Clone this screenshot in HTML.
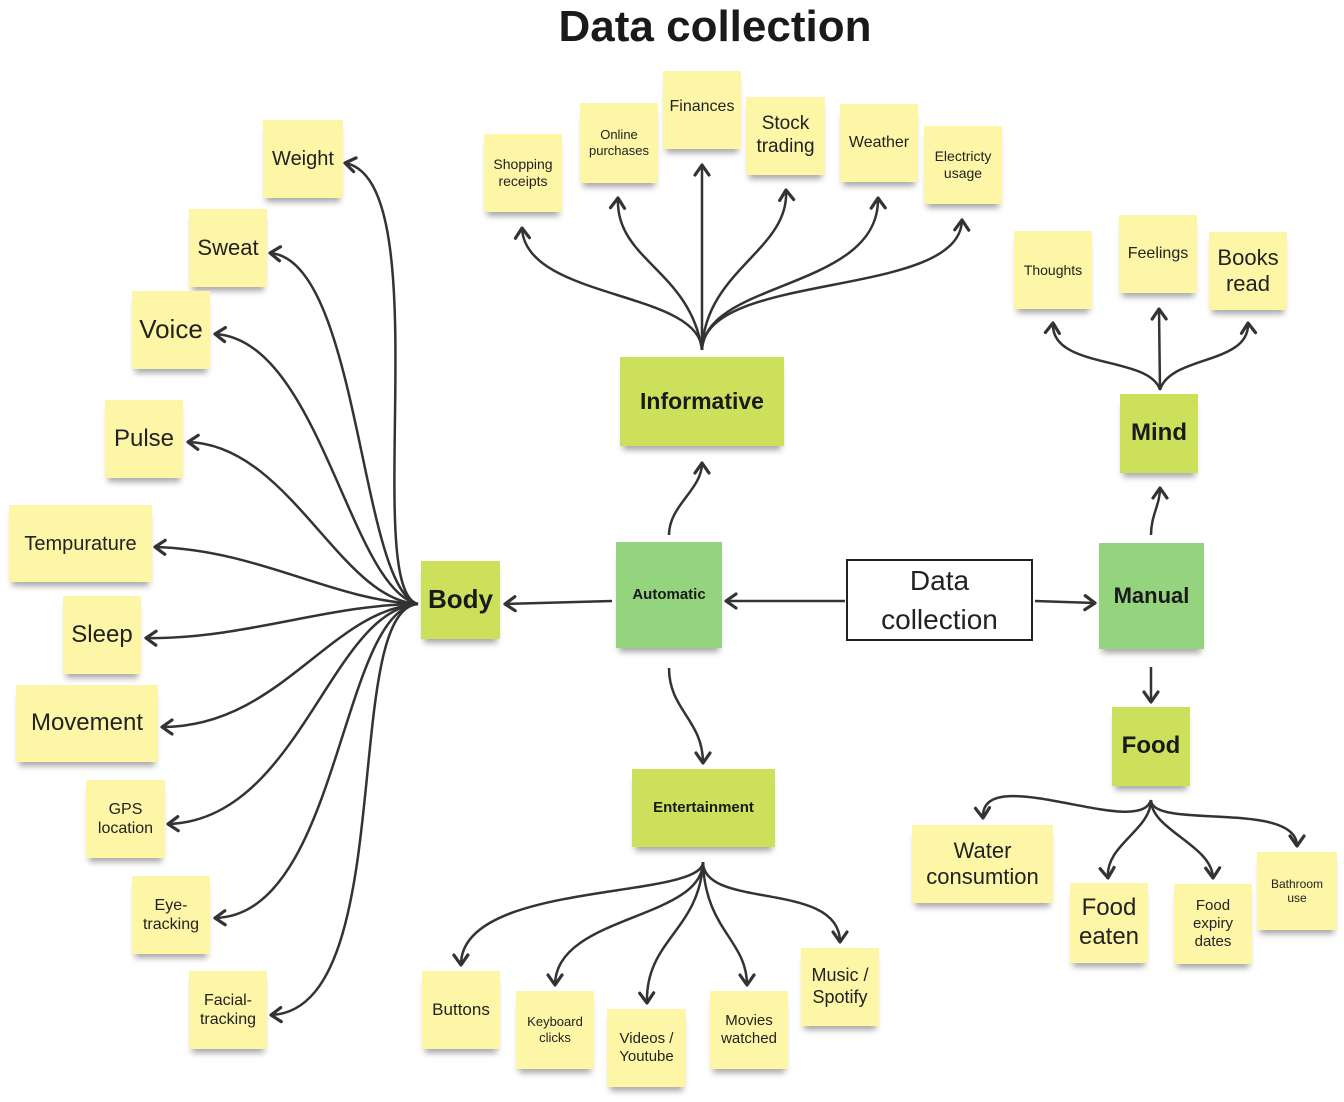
<!DOCTYPE html>
<html><head><meta charset="utf-8"><style>
body{margin:0;width:1344px;height:1102px;background:#fff;position:relative;overflow:hidden;font-family:"Liberation Sans","DejaVu Sans",sans-serif;}
.n{position:absolute;display:flex;align-items:center;justify-content:center;text-align:center;color:#222;background:#fdf6a6;box-shadow:0 7px 6px -3px rgba(0,0,0,0.35);line-height:1.2;}
.g{background:#cde05c;font-weight:bold;color:#1a1a1a}
.m{background:#95d47f;font-weight:bold;color:#1a1a1a}
h1{position:absolute;left:0;width:1430px;top:2px;margin:0;text-align:center;font-size:44px;font-weight:bold;color:#1a1a1a}
svg{position:absolute;left:0;top:0}
</style></head><body>
<h1>Data collection</h1>
<svg width="1344" height="1102" viewBox="0 0 1344 1102">
<defs><marker id="a" markerWidth="18" markerHeight="18" refX="13" refY="9" orient="auto" markerUnits="userSpaceOnUse"><polyline points="3,2 13,9 3,16" fill="none" stroke="#333" stroke-width="3.2" stroke-linejoin="round" stroke-linecap="round"/></marker></defs>
<g fill="none" stroke="#333" stroke-width="2.5" marker-end="url(#a)">
<path d="M418,604 C360,590 440,180 345,163"/>
<path d="M418,604 C360,590 360,260 270,253"/>
<path d="M418,604 C350,590 320,340 215,334"/>
<path d="M418,604 C340,600 290,445 188,442"/>
<path d="M418,604 C330,600 260,550 155,547"/>
<path d="M418,604 C330,604 240,640 146,638"/>
<path d="M418,604 C330,610 280,727 162,727"/>
<path d="M418,604 C330,610 300,820 168,824"/>
<path d="M418,604 C340,610 340,915 215,918"/>
<path d="M418,604 C340,610 400,1010 271,1015"/>
<path d="M702,350 C700,290 525,300 522,228"/>
<path d="M702,350 C690,270 615,260 618,198"/>
<path d="M702,350 L702,165"/>
<path d="M702,350 C705,270 790,250 786,190"/>
<path d="M702,350 C705,280 880,290 878,198"/>
<path d="M702,350 C705,270 960,300 962,220"/>
<path d="M669,535 C669,505 702,490 702,463"/>
<path d="M612,601 L505,604"/>
<path d="M845,601 L726,601"/>
<path d="M1035,601 L1095,603"/>
<path d="M1151,535 C1151,515 1160,505 1160,488"/>
<path d="M1160,390 C1150,355 1050,370 1053,323"/>
<path d="M1160,390 L1159,309"/>
<path d="M1160,390 C1170,355 1250,365 1248,323"/>
<path d="M1151,667 L1151,702"/>
<path d="M1151,800 C1140,840 980,760 983,818"/>
<path d="M1151,800 C1151,830 1105,845 1108,878"/>
<path d="M1151,800 C1151,830 1212,845 1213,878"/>
<path d="M1151,800 C1151,830 1297,800 1297,846"/>
<path d="M669,668 C669,710 703,720 703,763"/>
<path d="M703,862 C703,900 460,880 461,965"/>
<path d="M703,862 C703,920 555,915 555,985"/>
<path d="M703,862 C700,930 645,940 647,1003"/>
<path d="M703,862 C705,930 747,940 747,985"/>
<path d="M703,862 C703,910 840,880 840,942"/>
</g></svg>

<div class="n" style="left:263px;top:120px;width:80px;height:78px;font-size:20px">Weight</div>
<div class="n" style="left:189px;top:209px;width:78px;height:78px;font-size:22px">Sweat</div>
<div class="n" style="left:132px;top:291px;width:78px;height:78px;font-size:26px">Voice</div>
<div class="n" style="left:105px;top:400px;width:78px;height:78px;font-size:24px">Pulse</div>
<div class="n" style="left:9px;top:505px;width:143px;height:77px;font-size:20px">Tempurature</div>
<div class="n" style="left:63px;top:596px;width:78px;height:78px;font-size:24px">Sleep</div>
<div class="n" style="left:16px;top:685px;width:142px;height:77px;font-size:24px">Movement</div>
<div class="n" style="left:86px;top:780px;width:79px;height:78px;font-size:16px">GPS<br>location</div>
<div class="n" style="left:132px;top:876px;width:78px;height:78px;font-size:16px">Eye-<br>tracking</div>
<div class="n" style="left:189px;top:971px;width:78px;height:78px;font-size:16px">Facial-<br>tracking</div>
<div class="n g" style="left:421px;top:561px;width:79px;height:78px;font-size:26px">Body</div>

<div class="n" style="left:484px;top:134px;width:78px;height:78px;font-size:14px">Shopping<br>receipts</div>
<div class="n" style="left:580px;top:103px;width:78px;height:80px;font-size:13px">Online<br>purchases</div>
<div class="n" style="left:663px;top:71px;width:78px;height:78px;font-size:16px;align-items:flex-start;padding-top:0"><span style="margin-top:26px">Finances</span></div>
<div class="n" style="left:746px;top:97px;width:79px;height:78px;font-size:19px">Stock<br>trading</div>
<div class="n" style="left:840px;top:104px;width:78px;height:78px;font-size:16px">Weather</div>
<div class="n" style="left:924px;top:126px;width:78px;height:78px;font-size:14px">Electricty<br>usage</div>
<div class="n g" style="left:620px;top:357px;width:164px;height:89px;font-size:23px">Informative</div>

<div class="n m" style="left:616px;top:542px;width:106px;height:106px;font-size:15px">Automatic</div>
<div style="position:absolute;left:846px;top:559px;width:183px;height:78px;border:2px solid #222;background:#fff;display:flex;align-items:center;justify-content:center;text-align:center;font-size:28px;line-height:1.4;color:#222">Data<br>collection</div>
<div class="n m" style="left:1099px;top:543px;width:105px;height:106px;font-size:22px">Manual</div>
<div class="n g" style="left:1120px;top:394px;width:78px;height:79px;font-size:24px">Mind</div>
<div class="n" style="left:1014px;top:231px;width:78px;height:78px;font-size:14px">Thoughts</div>
<div class="n" style="left:1119px;top:215px;width:78px;height:78px;font-size:16px">Feelings</div>
<div class="n" style="left:1209px;top:232px;width:78px;height:78px;font-size:22px">Books<br>read</div>
<div class="n g" style="left:1112px;top:707px;width:78px;height:79px;font-size:24px">Food</div>
<div class="n" style="left:912px;top:825px;width:141px;height:78px;font-size:22px">Water<br>consumtion</div>
<div class="n" style="left:1070px;top:883px;width:78px;height:80px;font-size:24px">Food<br>eaten</div>
<div class="n" style="left:1174px;top:884px;width:78px;height:80px;font-size:15px">Food<br>expiry<br>dates</div>
<div class="n" style="left:1257px;top:852px;width:80px;height:78px;font-size:12px">Bathroom<br>use</div>

<div class="n g" style="left:632px;top:769px;width:143px;height:78px;font-size:15px">Entertainment</div>
<div class="n" style="left:422px;top:971px;width:78px;height:78px;font-size:17px">Buttons</div>
<div class="n" style="left:516px;top:991px;width:78px;height:78px;font-size:13px">Keyboard<br>clicks</div>
<div class="n" style="left:607px;top:1009px;width:79px;height:78px;font-size:15px">Videos /<br>Youtube</div>
<div class="n" style="left:710px;top:991px;width:78px;height:78px;font-size:15px">Movies<br>watched</div>
<div class="n" style="left:801px;top:948px;width:78px;height:78px;font-size:18px">Music /<br>Spotify</div>
</body></html>
